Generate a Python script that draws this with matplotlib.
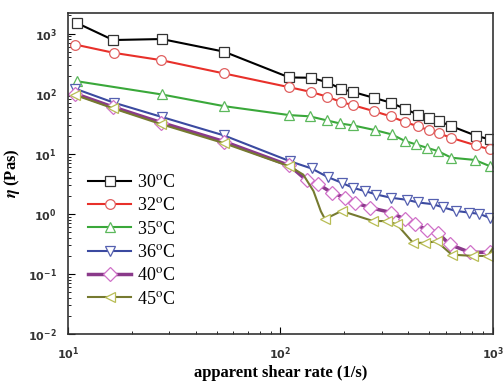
import matplotlib
matplotlib.use("Agg")
import matplotlib.pyplot as plt
from matplotlib.ticker import LogLocator, NullFormatter

plt.rcParams['mathtext.fontset'] = 'stix'

# ---- data (shear rate 1/s, viscosity Pas) ----
x30 = [11.0, 16.3, 27.6, 54.2, 110, 139, 166, 192, 219, 276, 330, 385, 442, 501, 559, 634, 832, 968, 1000]
y30 = [1500, 780, 810, 500, 186, 184, 155, 121, 107, 85, 71, 56, 45, 40, 35, 29, 20, 17.3, 16.5]

x32 = [10.8, 16.4, 27.4, 54.2, 110, 139, 166, 192, 219, 276, 330, 385, 442, 501, 559, 634, 832, 968, 1000]
y32 = [656, 478, 361, 217, 128, 107, 89, 73, 64.5, 51, 42, 33.7, 28.8, 24.5, 21.8, 18.5, 13.8, 11.8, 11.5]

x35 = [11.0, 27.6, 54.2, 110, 137, 165, 190, 220, 278, 334, 386, 435, 489, 550, 638, 822, 965, 1000]
y35 = [161, 97, 62, 44, 42, 36, 32, 29.6, 24.8, 21, 16.3, 14.3, 12.6, 11.1, 8.6, 7.9, 6.25, 6.0]

x36 = [10.8, 16.4, 27.6, 54.2, 111, 140, 167, 194, 220, 250, 283, 333, 392, 444, 522, 584, 670, 774, 863, 967, 1000]
y36 = [121, 71, 41, 20.2, 7.5, 5.7, 4.1, 3.3, 2.7, 2.4, 2.1, 1.85, 1.72, 1.55, 1.45, 1.28, 1.12, 1.05, 1.0, 0.86, 0.82]

x40 = [10.8, 16.3, 27.5, 54.2, 110, 133, 151, 174, 201, 224, 264, 333, 385, 430, 488, 550, 625, 778, 967, 1000]
y40 = [100, 60, 33, 16, 6.4, 3.6, 3.1, 2.26, 1.87, 1.54, 1.27, 1.05, 0.81, 0.67, 0.55, 0.49, 0.31, 0.23, 0.23, 0.24]

x45 = [10.8, 16.3, 27.5, 54.2, 110, 128, 143, 155, 162, 194, 273, 316, 353, 421, 479, 543, 640, 808, 947, 1000]
y45 = [95, 57, 31, 15, 6.2, 4.5, 2.4, 1.1, 0.82, 1.12, 0.76, 0.76, 0.67, 0.33, 0.33, 0.35, 0.21, 0.2, 0.2, 0.27]

labels = [r'30$^{\rm o}$C', r'32$^{\rm o}$C', r'35$^{\rm o}$C',
          r'36$^{\rm o}$C', r'40$^{\rm o}$C', r'45$^{\rm o}$C']

fig = plt.figure(figsize=(5.04, 3.81), dpi=100)
ax = fig.add_axes([0.135, 0.123, 0.843, 0.843])

def series(x, y, line_c, mark_c, marker, label, lw=1.5, every=None):
    n = len(x)
    if every is None:
        every = list(range(n - 1))
    ax.plot(x, y, color=line_c, lw=lw, marker=marker, ms=7,
            mfc='white', mec=mark_c, mew=0.9, markevery=every, label=label)

series(x30, y30, 'black', '#333333', 's', labels[0])
series(x32, y32, '#e8302a', '#e06060', 'o', labels[1])
series(x35, y35, '#3aa83a', '#5cb85c', '^', labels[2])
series(x36, y36, '#3b4aa0', '#5560b0', 'v', labels[3])
series(x40, y40, '#8a3a8a', '#d070c8', 'D', labels[4], lw=2.5)
series(x45, y45, '#767a30', '#b8bd55', '<', labels[5],
       every=[0, 1, 2, 3, 4, 8, 9, 10, 11, 12, 13, 14, 15, 16, 17, 18])

ax.set_xscale('log')
ax.set_yscale('log')
ax.set_xlim(10, 1000)
ax.set_ylim(0.01, 2200)

ax.tick_params(which='both', direction='in', top=False, right=False)
ax.tick_params(which='major', length=5, labelsize=8, pad=8)
ax.tick_params(which='minor', length=2.5)
ax.yaxis.set_minor_locator(LogLocator(base=10, subs=range(2, 10), numticks=20))
ax.yaxis.set_minor_formatter(NullFormatter())
for lab in ax.get_xticklabels() + ax.get_yticklabels():
    lab.set_fontweight('bold')
    lab.set_color('#333333')
for s in ax.spines.values():
    s.set_linewidth(1.2)
    s.set_color('#333333')

ax.set_xlabel('apparent shear rate (1/s)', family='Liberation Serif',
              fontsize=12, fontweight='bold', labelpad=2)
ax.set_ylabel(r'$\boldsymbol{\eta}$ (Pas)', family='Liberation Serif',
              fontsize=12, fontweight='bold', labelpad=4)

ax.legend(loc='lower left', bbox_to_anchor=(0.03, 0.06), frameon=False,
          prop={'family': 'Liberation Serif', 'size': 13},
          handlelength=2.4, labelspacing=0.35, handletextpad=0.3,
          borderaxespad=0)

fig.savefig('out.png', dpi=100)
